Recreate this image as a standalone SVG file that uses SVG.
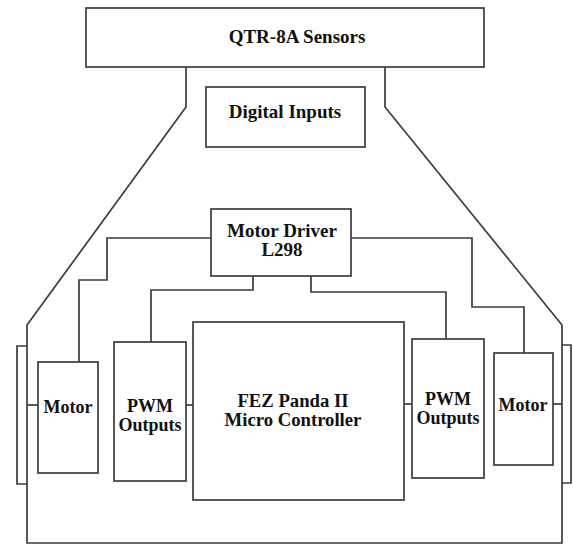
<svg xmlns="http://www.w3.org/2000/svg" width="573" height="545" viewBox="0 0 573 545">
<style>
.box{fill:#fff;stroke:#3c3c3c;stroke-width:1.7}
.ln{fill:none;stroke:#3c3c3c;stroke-width:1.7}
text{font-weight:bold;fill:#111;text-anchor:middle}
.t19{font-size:19px}
.t18{font-size:18px}
.fez{font-size:18.7px}
</style>
<rect width="573" height="545" fill="#fff"/>
<g id="connectors">
<polyline class="ln" points="186,67 186,107 27,325 27,543 562,543 562,325 385,107 385,67"/>
<polyline class="ln" points="27,346 17,346 17,484 27,484"/>
<polyline class="ln" points="562,345 571,345 571,483 562,483"/>
<line class="ln" x1="27" y1="405" x2="38" y2="405"/>
<line class="ln" x1="186" y1="405" x2="193" y2="405"/>
<line class="ln" x1="404" y1="404" x2="412" y2="404"/>
<line class="ln" x1="553" y1="404" x2="562" y2="404"/>
<polyline class="ln" points="211,238 107,238 107,280 79,280 79,362"/>
<polyline class="ln" points="253,276 253,290 151,290 151,342"/>
<polyline class="ln" points="351,238 472,238 472,307 524,307 524,353"/>
<polyline class="ln" points="311,276 311,292 446,292 446,339"/>
</g>
<g id="qtr" font-family="'Liberation Serif','DejaVu Serif',serif">
<rect class="box" x="86" y="8" width="398" height="59"/>
<text class="t19" x="297" y="43">QTR-8A Sensors</text>
</g>
<g id="digital" font-family="'Liberation Serif','DejaVu Serif',serif">
<rect class="box" x="206" y="87" width="159" height="60"/>
<text class="t19" x="285" y="118">Digital Inputs</text>
</g>
<g id="driver" font-family="'Liberation Serif','DejaVu Serif',serif">
<rect class="box" x="211" y="209" width="140" height="67"/>
<text class="t19" x="282" y="237">Motor Driver</text>
<text class="t19" x="282" y="256">L298</text>
</g>
<g id="fez" font-family="'Liberation Serif','DejaVu Serif',serif">
<rect class="box" x="193" y="322" width="211" height="178"/>
<text class="fez" x="293" y="407">FEZ Panda II</text>
<text class="fez" x="293" y="426">Micro Controller</text>
</g>
<g id="pwm-left" font-family="'Liberation Serif','DejaVu Serif',serif">
<rect class="box" x="114" y="342" width="72" height="139"/>
<text class="t18" x="150" y="412">PWM</text>
<text class="t18" x="150" y="431">Outputs</text>
</g>
<g id="motor-left" font-family="'Liberation Serif','DejaVu Serif',serif">
<rect class="box" x="38" y="362" width="60" height="111"/>
<text class="t18" x="68" y="413">Motor</text>
</g>
<g id="pwm-right" font-family="'Liberation Serif','DejaVu Serif',serif">
<rect class="box" x="412" y="339" width="72" height="139"/>
<text class="t18" x="448" y="405">PWM</text>
<text class="t18" x="448" y="424">Outputs</text>
</g>
<g id="motor-right" font-family="'Liberation Serif','DejaVu Serif',serif">
<rect class="box" x="494" y="353" width="59" height="112"/>
<text class="t18" x="523" y="411">Motor</text>
</g>
</svg>
